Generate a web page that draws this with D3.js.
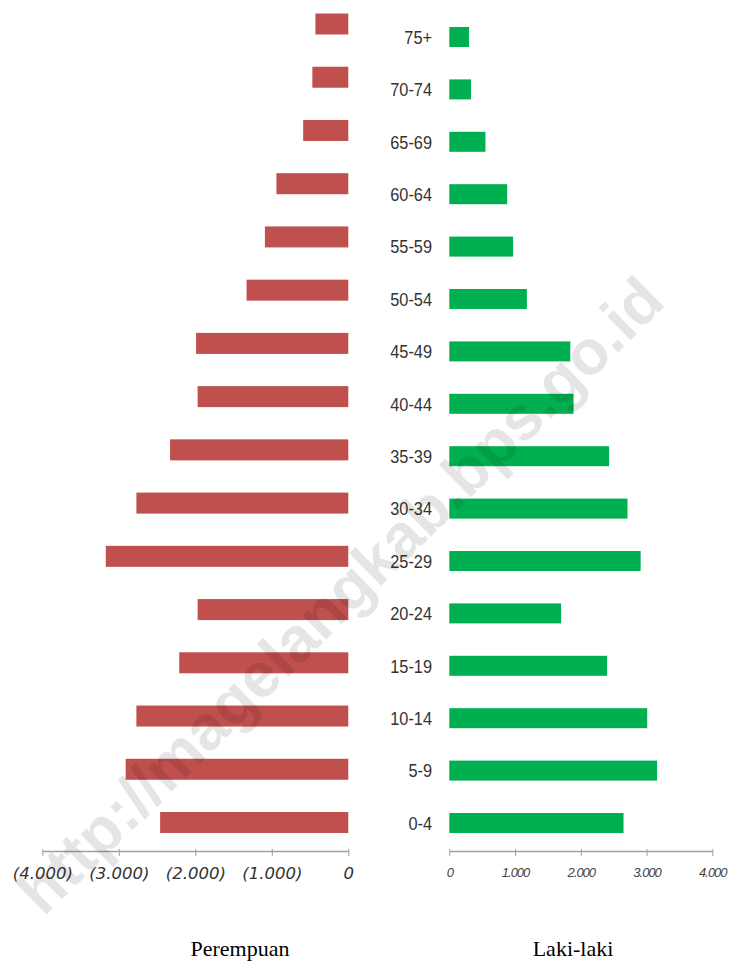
<!DOCTYPE html>
<html>
<head>
<meta charset="utf-8">
<script src="https://cdn.jsdelivr.net/npm/d3@7"></script>
<style>
  html, body { margin: 0; padding: 0; background: #fff; }
  svg { display: block; }
</style>
</head>
<body>
<svg id="pyramid"></svg>
<script>
// Age groups, top of the pyramid first
const ageGroups = ['75+', '70-74', '65-69', '60-64', '55-59', '50-54', '45-49', '40-44',
    '35-39', '30-34', '25-29', '20-24', '15-19', '10-14', '5-9', '0-4'];

// Perempuan (female), drawn to the left
const femaleValues = [430, 470, 590, 940, 1090, 1330, 1990, 1970,
    2330, 2770, 3170, 1970, 2210, 2770, 2910, 2460];

// Laki-laki (male), drawn to the right
const maleValues = [300, 330, 550, 880, 970, 1180, 1840, 1890,
    2430, 2710, 2910, 1700, 2400, 3010, 3160, 2650];

const femaleTicks = [-4000, -3000, -2000, -1000, 0];
const maleTicks = [0, 1000, 2000, 3000, 4000];

const sideLabels = ['Perempuan', 'Laki-laki'];
const watermarkText = 'http://magelangkab.bps.go.id';

class PopulationPyramid {
    constructor(svgId) {
        this.width = 734;
        this.height = 966;
        this.svg = d3.select(`#${svgId}`)
            .attr('width', this.width)
            .attr('height', this.height);

        this.red = '#C0504D';
        this.green = '#00B050';
        this.axisY = 851;

        const loc = d3.formatLocale({ decimal: ',', thousands: '.', grouping: [3], currency: ['', ''] });
        this.fmt = loc.format(',');
    }

    init() {
        this.setupScales();
        this.drawFemale();
        this.drawMale();
        this.drawLabels();
        this.drawWatermark();
    }

    setupScales() {
        this.xL = d3.scaleLinear().domain([-4000, 0]).range([42.3, 348.3]);
        this.xR = d3.scaleLinear().domain([0, 4000]).range([449.3, 712.3]);
        // the two halves are not quite aligned in the original
        this.yL = d3.scalePoint().domain(ageGroups).range([24, 822.5]);
        this.yR = d3.scalePoint().domain(ageGroups).range([37, 823]);
    }

    styleAxis(ax) {
        ax.select('.domain').attr('stroke', '#a0a0a0').attr('stroke-width', 1.5);
        ax.selectAll('.tick line').attr('stroke', '#a0a0a0').attr('y1', -2);
    }

    drawFemale() {
        this.svg.append('g')
            .selectAll('rect')
            .data(ageGroups)
            .enter().append('rect')
            .attr('x', (d, i) => this.xL(-femaleValues[i]))
            .attr('y', d => this.yL(d) - 10.5)
            .attr('width', (d, i) => this.xL(0) - this.xL(-femaleValues[i]))
            .attr('height', 21)
            .attr('fill', this.red);

        const axis = d3.axisBottom(this.xL)
            .tickValues(femaleTicks)
            .tickSize(5)
            .tickPadding(11)
            .tickSizeOuter(0)
            .tickFormat(d => d < 0 ? `(${this.fmt(-d)})` : '0');

        const ax = this.svg.append('g')
            .attr('transform', `translate(0,${this.axisY})`)
            .call(axis);
        this.styleAxis(ax);
        ax.selectAll('.tick text')
            .attr('fill', '#333')
            .style('font-family', '"DejaVu Sans", sans-serif')
            .style('font-style', 'italic')
            .style('font-size', '16.5px');
    }

    drawMale() {
        this.svg.append('g')
            .selectAll('rect')
            .data(ageGroups)
            .enter().append('rect')
            .attr('x', this.xR(0))
            .attr('y', d => this.yR(d) - 10)
            .attr('width', (d, i) => this.xR(maleValues[i]) - this.xR(0))
            .attr('height', 20)
            .attr('fill', this.green);

        const axis = d3.axisBottom(this.xR)
            .tickValues(maleTicks)
            .tickSize(5)
            .tickPadding(12)
            .tickSizeOuter(0)
            .tickFormat(d => this.fmt(d));

        const ax = this.svg.append('g')
            .attr('transform', `translate(0,${this.axisY})`)
            .call(axis);
        this.styleAxis(ax);
        ax.selectAll('.tick text')
            .attr('fill', '#444')
            .style('font-family', '"Liberation Sans", sans-serif')
            .style('font-style', 'italic')
            .style('font-size', '13px')
            .style('letter-spacing', '-1px');

        // age group labels, right-aligned next to the green bars
        this.svg.append('g')
            .selectAll('text')
            .data(ageGroups)
            .enter().append('text')
            .attr('transform', d => `translate(432,${this.yR(d)}) scale(0.86,1)`)
            .attr('text-anchor', 'end')
            .attr('dy', '0.36em')
            .attr('fill', '#333')
            .style('font-family', '"Liberation Sans", sans-serif')
            .style('font-size', '19px')
            .text(d => d);
    }

    drawLabels() {
        this.svg.append('g')
            .selectAll('text')
            .data(sideLabels)
            .enter().append('text')
            .attr('x', (d, i) => i === 0 ? 240 : 573)
            .attr('y', 956)
            .attr('text-anchor', 'middle')
            .attr('fill', '#000')
            .style('font-family', '"Liberation Serif", serif')
            .style('font-size', '22px')
            .text(d => d);
    }

    drawWatermark() {
        this.svg.append('text')
            .attr('transform', 'translate(340,595) rotate(-44.5)')
            .attr('text-anchor', 'middle')
            .attr('dy', '0.35em')
            .attr('fill', '#000')
            .attr('fill-opacity', 0.1)
            .style('font-family', '"Liberation Sans", sans-serif')
            .style('font-weight', 'bold')
            .style('font-size', '63px')
            .text(watermarkText);
    }
}

const chart = new PopulationPyramid('pyramid');
chart.init();
</script>
</body>
</html>
